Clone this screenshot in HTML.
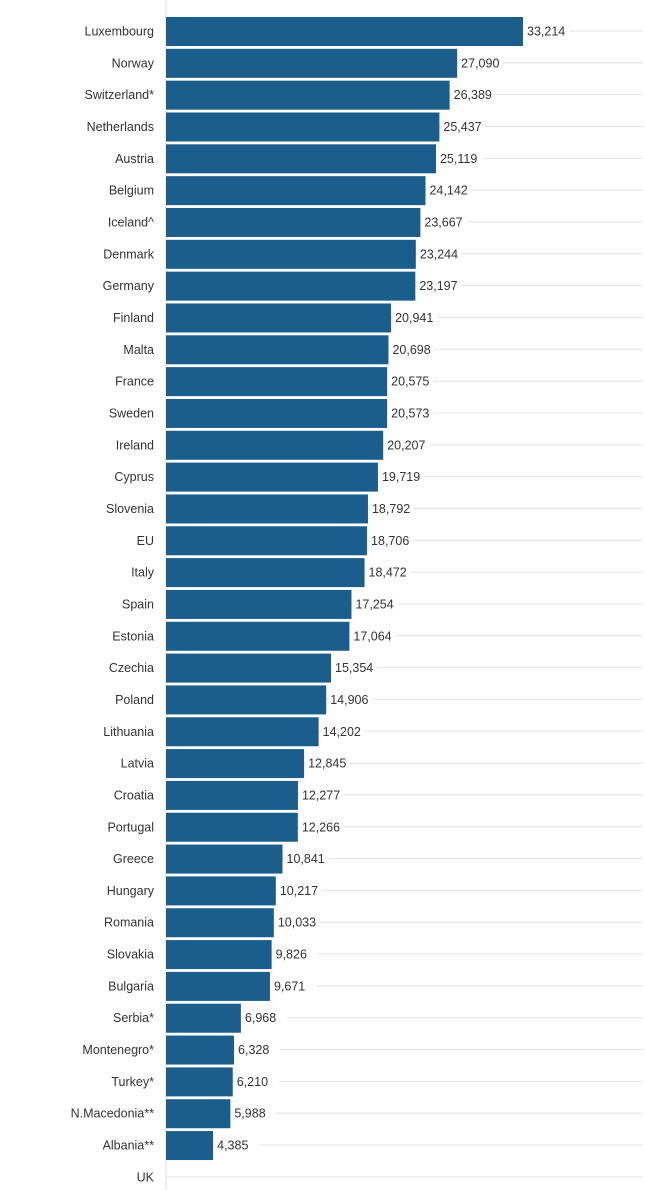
<!DOCTYPE html>
<html><head><style>body{margin:0;background:#fff}svg{display:block}text{font-family:"Liberation Sans",sans-serif;font-size:12.5px;fill:#333}</style></head>
<body>
<svg width="645" height="1190" xmlns="http://www.w3.org/2000/svg" id="s">
<line x1="166" y1="0" x2="166" y2="1190" stroke="#ddd" stroke-width="1"/>
</svg>
<script>
var d=[["Luxembourg",33214],["Norway",27090],["Switzerland*",26389],["Netherlands",25437],["Austria",25119],["Belgium",24142],["Iceland^",23667],["Denmark",23244],["Germany",23197],["Finland",20941],["Malta",20698],["France",20575],["Sweden",20573],["Ireland",20207],["Cyprus",19719],["Slovenia",18792],["EU",18706],["Italy",18472],["Spain",17254],["Estonia",17064],["Czechia",15354],["Poland",14906],["Lithuania",14202],["Latvia",12845],["Croatia",12277],["Portugal",12266],["Greece",10841],["Hungary",10217],["Romania",10033],["Slovakia",9826],["Bulgaria",9671],["Serbia*",6968],["Montenegro*",6328],["Turkey*",6210],["N.Macedonia**",5988],["Albania**",4385],["UK",0]];
var s=document.getElementById("s"),h="";
d.forEach(function(r,i){var c=31+i*31.83,w=r[1]*357/33214;
h+='<line x1="166" y1="'+c+'" x2="643" y2="'+c+'" stroke="#e4e4e4"/>';
h+='<text x="154" y="'+(c+4.5)+'" text-anchor="end">'+r[0]+'</text>';
if(r[1]){h+='<rect x="166" y="'+(c-14)+'" width="'+w+'" height="29" fill="#1b5e8b"/>';
h+='<rect x="'+(166+w+2)+'" y="'+(c-8)+'" width="44" height="16" fill="#fff"/>';
h+='<text x="'+(166+w+4)+'" y="'+(c+4.5)+'">'+r[1].toLocaleString("en-US")+'</text>';}
});
s.insertAdjacentHTML("beforeend",h);
</script>
</body></html>
